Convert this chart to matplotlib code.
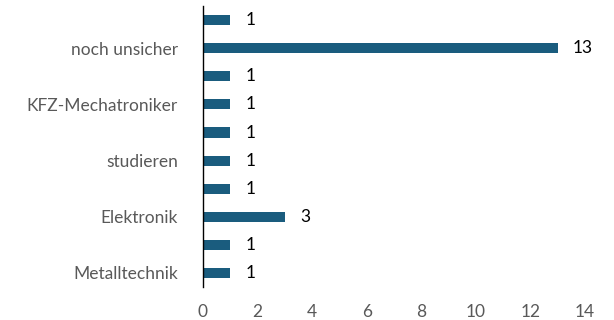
import matplotlib.pyplot as plt

# Berufswunsch-Kategorien von unten nach oben (nur jede zweite beschriftet)
kategorien = ["Metalltechnik", "", "Elektronik", "", "studieren", "",
              "KFZ-Mechatroniker", "", "noch unsicher", ""]
anzahl = [1, 1, 3, 1, 1, 1, 1, 1, 13, 1]
x_ticks = [0, 2, 4, 6, 8, 10, 12, 14]

plt.rcParams['font.family'] = ['Lato', 'DejaVu Sans']

fig = plt.figure(figsize=(6.14, 3.2), dpi=100)
ax = fig.add_axes([0.3306, 0.103, 0.622, 0.878])

pos = list(range(len(anzahl)))
ax.barh(pos, anzahl, height=0.36, color="#1a5c7e")

for p, v in zip(pos, anzahl):
    ax.annotate(str(v), (v, p), xytext=(11, 0), textcoords="offset points",
                va="center", ha="left", fontsize=12.5, color="black")

ax.set_yticks(pos)
ax.set_yticklabels(kategorien, fontsize=12.5, color="#595959")
ax.set_xticks(x_ticks)
ax.set_xticklabels([str(t) for t in x_ticks], fontsize=12.5, color="#595959")
ax.set_xlim(0, 14)
ax.set_ylim(-0.5, 9.5)

ax.tick_params(axis="both", length=0)
ax.tick_params(axis="y", pad=18)
ax.tick_params(axis="x", pad=12)
for s in ["top", "right", "bottom"]:
    ax.spines[s].set_visible(False)
ax.spines["left"].set_color("black")
ax.spines["left"].set_linewidth(1)

fig.savefig("out.png", dpi=100)
